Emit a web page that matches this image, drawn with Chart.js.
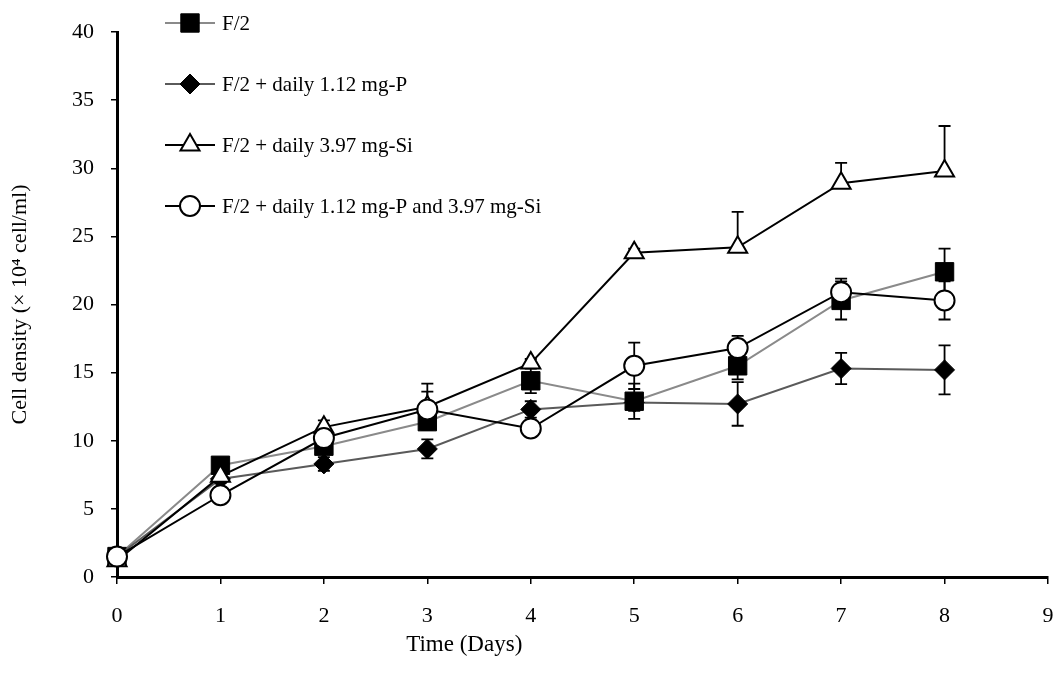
<!DOCTYPE html>
<html>
<head>
<meta charset="utf-8">
<script src="https://cdn.jsdelivr.net/npm/chart.js@4.4.1/dist/chart.umd.min.js"></script>
<style>
  html, body { margin: 0; padding: 0; background: #fff; }
  canvas { display: block; }
</style>
</head>
<body>
<canvas id="growth" width="1057" height="681"></canvas>
<script>
// culture days and mean cell density (x 10^4 cell/ml) per treatment
const days = [0, 1, 2, 3, 4, 5, 6, 7, 8]
const f2     = [1.5, 8.2, 9.6, 11.4, 14.4, 12.9, 15.5, 20.3, 22.4]
const f2P    = [1.5, 7.2, 8.3, 9.4, 12.3, 12.8, 12.7, 15.3, 15.2]
const f2Si   = [1.2, 7.4, 11.0, 12.5, 15.7, 23.8, 24.2, 28.9, 29.8]
const f2PSi  = [1.5, 6.0, 10.2, 12.3, 10.9, 15.5, 16.8, 20.9, 20.3]

// standard deviations
const f2Err    = [0.3, 0.3, 0.5, 0.6, 0.9, 1.3, 1.0, 1.4, 1.7]
const f2PErr   = [0.3, 0.3, 0.5, 0.7, 0.6, 0.6, 1.6, 1.15, 1.8]
const f2SiErr  = [0.3, 0.3, 0.5, 1.7, 0.3, 0.3, 2.6, 1.5, 3.3]
const f2PSiErr = [0.3, 0.3, 0.4, 1.3, 0.3, 1.7, 0.9, 1.0, 1.4]

const seriesNames = [
  "F/2",
  "F/2 + daily 1.12 mg-P",
  "F/2 + daily 3.97 mg-Si",
  "F/2 + daily 1.12 mg-P and 3.97 mg-Si"
]
const xTicks = [0, 1, 2, 3, 4, 5, 6, 7, 8, 9]
const yTicks = [0, 5, 10, 15, 20, 25, 30, 35, 40]
const xTitle = "Time (Days)"
const yTitle = "Cell density (\u00d7 10\u2074 cell/ml)"

const serif = '"Liberation Serif", "Times New Roman", serif'
Chart.defaults.font.family = serif
Chart.defaults.color = '#000'

const points = vals => days.map((d, i) => ({x: d, y: vals[i]}))

// error bars are drawn under the lines and markers
const errorBars = {
  id: 'errorBars',
  beforeDatasetsDraw(chart) {
    const {ctx, scales: {x, y}} = chart
    ctx.save()
    ctx.strokeStyle = '#000'
    ctx.lineWidth = 1.8
    chart.data.datasets.forEach(ds => {
      ds.data.forEach((p, i) => {
        const e = ds.errors[i]
        const px = x.getPixelForValue(p.x)
        const top = y.getPixelForValue(p.y + e)
        const bot = y.getPixelForValue(ds.plusOnly ? p.y : p.y - e)
        ctx.beginPath()
        ctx.moveTo(px, top); ctx.lineTo(px, bot)
        ctx.moveTo(px - 6, top); ctx.lineTo(px + 6, top)
        if (!ds.plusOnly) { ctx.moveTo(px - 6, bot); ctx.lineTo(px + 6, bot) }
        ctx.stroke()
      })
    })
    ctx.restore()
  }
}

// stacked legend in the top-left corner, plus the x-axis title
const sideLegend = {
  id: 'sideLegend',
  afterDraw(chart) {
    const {ctx, chartArea} = chart
    ctx.save()
    chart.data.datasets.forEach((ds, i) => {
      const y = chartArea.top - 9 + i * 61
      const x0 = chartArea.left + 48
      ctx.strokeStyle = ds.borderColor
      ctx.lineWidth = 2
      ctx.beginPath()
      ctx.moveTo(x0, y); ctx.lineTo(x0 + 50, y)
      ctx.stroke()
      ctx.fillStyle = ds.pointBackgroundColor
      ctx.strokeStyle = '#000'
      ctx.lineWidth = ds.pointBorderWidth
      Chart.helpers.drawPoint(ctx, {
        pointStyle: ds.pointStyle, radius: ds.pointRadius, rotation: 0, borderWidth: ds.pointBorderWidth
      }, x0 + 25, y)
      ctx.fillStyle = '#000'
      ctx.font = '21px ' + serif
      ctx.textBaseline = 'middle'
      ctx.textAlign = 'left'
      ctx.fillText(ds.label, x0 + 57, y + 1)
    })
    ctx.font = '23px ' + serif
    ctx.textAlign = 'center'
    ctx.textBaseline = 'middle'
    ctx.fillText(xTitle, chartArea.left + 0.373 * (chartArea.right - chartArea.left), 645)
    ctx.restore()
  }
}

const ctx = document.getElementById('growth').getContext('2d')
const chart = new Chart(ctx, {
  type: 'line',
  data: {
    datasets: [{
      label: seriesNames[0],
      data: points(f2),
      errors: f2Err,
      borderColor: '#8a8a8a',
      borderWidth: 2,
      pointStyle: 'rect',
      pointRadius: 13,
      pointBackgroundColor: '#000',
      pointBorderColor: '#000',
      pointBorderWidth: 1,
      clip: false,
      order: 4
    },
    {
      label: seriesNames[1],
      data: points(f2P),
      errors: f2PErr,
      borderColor: '#5a5a5a',
      borderWidth: 2,
      pointStyle: 'rectRot',
      pointRadius: 10,
      pointBackgroundColor: '#000',
      pointBorderColor: '#000',
      pointBorderWidth: 1,
      clip: false,
      order: 3
    },
    {
      label: seriesNames[2],
      data: points(f2Si),
      errors: f2SiErr,
      plusOnly: true,
      borderColor: '#000',
      borderWidth: 2,
      pointStyle: 'triangle',
      pointRadius: 11,
      pointBackgroundColor: '#fff',
      pointBorderColor: '#000',
      pointBorderWidth: 2,
      clip: false,
      order: 2
    },
    {
      label: seriesNames[3],
      data: points(f2PSi),
      errors: f2PSiErr,
      borderColor: '#000',
      borderWidth: 2,
      pointStyle: 'circle',
      pointRadius: 10,
      pointBackgroundColor: '#fff',
      pointBorderColor: '#000',
      pointBorderWidth: 2,
      clip: false,
      order: 1
    }]
  },
  options: {
    responsive: false,
    animation: false,
    layout: {autoPadding: false, padding: {top: 32, right: 9, left: 0, bottom: 0}},
    plugins: {
      legend: {display: false},
      tooltip: {enabled: false}
    },
    scales: {
      x: {
        type: 'linear',
        min: 0,
        max: 9,
        afterFit: s => { s.height = 104; s.paddingLeft = 0; s.paddingRight = 0 },
        afterBuildTicks: s => { s.ticks = xTicks.map(v => ({value: v})) },
        ticks: {font: {size: 22}, padding: 19, maxRotation: 0},
        grid: {drawOnChartArea: false, color: '#000', lineWidth: 1.5, tickLength: 7},
        border: {color: '#000', width: 3}
      },
      y: {
        min: 0,
        max: 40,
        afterFit: s => { s.width = 117; s.paddingTop = 0; s.paddingBottom = 0 },
        afterBuildTicks: s => { s.ticks = yTicks.map(v => ({value: v})) },
        ticks: {font: {size: 22}, padding: 17},
        grid: {drawOnChartArea: false, color: '#000', lineWidth: 1.5, tickLength: 6},
        border: {color: '#000', width: 3},
        title: {display: true, text: yTitle, font: {size: 22}, padding: {top: 7, bottom: 0}}
      }
    }
  },
  plugins: [errorBars, sideLegend]
})
</script>
</body>
</html>
